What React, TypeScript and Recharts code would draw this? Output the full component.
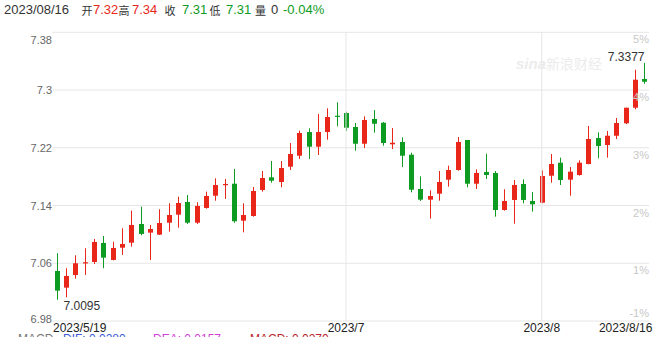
import React from "react";
import {
  ComposedChart,
  Bar,
  XAxis,
  YAxis,
  CartesianGrid,
  ReferenceLine,
} from "recharts";

const dates = [
  "2023/5/19", "2023/5/22", "2023/5/23", "2023/5/24", "2023/5/25", "2023/5/26",
  "2023/5/29", "2023/5/30", "2023/5/31",
  "2023/6/1", "2023/6/2", "2023/6/5", "2023/6/6", "2023/6/7", "2023/6/8", "2023/6/9",
  "2023/6/12", "2023/6/13", "2023/6/14", "2023/6/15", "2023/6/16",
  "2023/6/19", "2023/6/20", "2023/6/21", "2023/6/22", "2023/6/23",
  "2023/6/26", "2023/6/27", "2023/6/28", "2023/6/29", "2023/6/30",
  "2023/7/3", "2023/7/4", "2023/7/5", "2023/7/6", "2023/7/7",
  "2023/7/10", "2023/7/11", "2023/7/12", "2023/7/13", "2023/7/14",
  "2023/7/17", "2023/7/18", "2023/7/19", "2023/7/20", "2023/7/21",
  "2023/7/24", "2023/7/25", "2023/7/26", "2023/7/27", "2023/7/28", "2023/7/31",
  "2023/8/1", "2023/8/2", "2023/8/3", "2023/8/4",
  "2023/8/7", "2023/8/8", "2023/8/9", "2023/8/10", "2023/8/11",
  "2023/8/14", "2023/8/15", "2023/8/16",
];

const opens = [
  7.0493, 7.0262, 7.0438, 7.0604, 7.0618, 7.0881, 7.0646, 7.0816, 7.0885, 7.1144,
  7.1024, 7.0996, 7.1162, 7.1273, 7.1449, 7.1162, 7.1366, 7.1536, 7.1689, 7.1702,
  7.119, 7.1255, 7.1615, 7.1791, 7.1726, 7.1938, 7.209, 7.2418, 7.2215, 7.2418,
  7.2644, 7.2682, 7.2488, 7.2256, 7.2599, 7.2547, 7.2248, 7.228, 7.2104, 7.1629,
  7.1481, 7.1564, 7.1758, 7.1892, 7.2308, 7.1702, 7.1865, 7.1851, 7.1338, 7.1477,
  7.1698, 7.1463, 7.1439, 7.1813, 7.1993, 7.1758, 7.1823, 7.1975, 7.2335, 7.2238,
  7.2367, 7.2539, 7.2755, 7.3153,
];

const closes = [
  7.0221, 7.0424, 7.06, 7.0614, 7.0895, 7.0678, 7.0812, 7.0867, 7.113, 7.1006,
  7.1075, 7.1158, 7.1269, 7.1435, 7.1162, 7.1394, 7.1532, 7.1684, 7.1698, 7.1182,
  7.1269, 7.1601, 7.1781, 7.1744, 7.192, 7.2114, 7.2405, 7.2215, 7.2418, 7.2626,
  7.2636, 7.2478, 7.2256, 7.2585, 7.2533, 7.2266, 7.227, 7.209, 7.1619, 7.1481,
  7.1532, 7.1726, 7.1892, 7.228, 7.1702, 7.1851, 7.1823, 7.1338, 7.1463, 7.1684,
  7.1477, 7.1417, 7.1809, 7.1975, 7.1754, 7.1869, 7.1993, 7.2322, 7.2225, 7.2367,
  7.2543, 7.2755, 7.3143, 7.3115,
];

const highs = [
  7.0739, 7.0531, 7.0711, 7.0808, 7.0937, 7.0978, 7.0899, 7.1085, 7.1329, 7.1384,
  7.113, 7.1348, 7.1431, 7.1522, 7.1546, 7.1445, 7.1592, 7.1777, 7.1768, 7.1906,
  7.1431, 7.1657, 7.1878, 7.2017, 7.2017, 7.2266, 7.2437, 7.247, 7.2668, 7.2747,
  7.283, 7.27, 7.2543, 7.2636, 7.2723, 7.2557, 7.2474, 7.2345, 7.2132, 7.1805,
  7.1611, 7.1878, 7.1952, 7.2349, 7.2308, 7.1902, 7.2118, 7.1878, 7.1625, 7.1754,
  7.1763, 7.1588, 7.1888, 7.2114, 7.2063, 7.1934, 7.2027, 7.2502, 7.2414, 7.2432,
  7.2612, 7.2755, 7.3281, 7.3377,
];

const lows = [
  7.0095, 7.0129, 7.0387, 7.0438, 7.059, 7.0531, 7.0639, 7.0715, 7.083, 7.0988,
  7.0646, 7.0992, 7.1038, 7.1093, 7.1144, 7.1144, 7.1356, 7.1467, 7.1491, 7.1162,
  7.1029, 7.1245, 7.1592, 7.1716, 7.1653, 7.1892, 7.2045, 7.2045, 7.21, 7.2312,
  7.2497, 7.2432, 7.216, 7.2197, 7.2409, 7.2229, 7.2183, 7.1934, 7.1583, 7.1463,
  7.1218, 7.1467, 7.1661, 7.1883, 7.1653, 7.1629, 7.1768, 7.1245, 7.1329, 7.1148,
  7.1431, 7.1315, 7.1431, 7.1716, 7.1684, 7.1536, 7.1813, 7.1971, 7.2054, 7.2063,
  7.2322, 7.2529, 7.2733, 7.3087,
];

const priceTicks = [6.98, 7.06, 7.14, 7.22, 7.3, 7.38];
const pctLabels = ["-1%", "1%", "2%", "3%", "4%", "5%"];
const xTickDates = ["2023/5/19", "2023/7/3", "2023/8/1", "2023/8/16"];
const xTickLabels = ["2023/5/19", "2023/7", "2023/8", "2023/8/16"];
const monthLines = ["2023/7/3", "2023/8/1"];

const RED = "#e8261a";
const GREEN = "#0d9b22";
const FONT = "'Liberation Sans', Arial, 'Noto Sans CJK SC', sans-serif";
const PLOT_RIGHT = 649;

const data = dates.map((date, i) => ({
  date,
  open: opens[i],
  close: closes[i],
  high: highs[i],
  low: lows[i],
  range: [lows[i], highs[i]],
}));

const maxIdx = highs.indexOf(Math.max(...highs));
const minIdx = lows.indexOf(Math.min(...lows));

const Candle = (props: any) => {
  const { x, y, width, height, payload, index } = props;
  if (!payload) return null;
  const { open, close, high, low } = payload;
  const top = Math.min(y, y + height);
  const h = Math.abs(height);
  const ratio = h / (high - low);
  const yOf = (v: number) => top + (high - v) * ratio;
  const color = close >= open ? RED : GREEN;
  const cx = Math.round(x + width / 2) + 0.5;
  const bTop = yOf(Math.max(open, close));
  const bBot = yOf(Math.min(open, close));
  return (
    <g>
      <line x1={cx} x2={cx} y1={top} y2={top + h} stroke={color} strokeWidth={1} />
      <rect
        x={cx - 2.5}
        y={bTop}
        width={5}
        height={Math.max(bBot - bTop, 1.2)}
        fill={color}
      />
      {index === maxIdx && (
        <text x={cx} y={top - 2} textAnchor="end" fontSize={12} fill="#333" fontFamily={FONT}>
          {high.toFixed(4)}
        </text>
      )}
      {index === minIdx && (
        <text x={cx + 6} y={top + h + 10.5} textAnchor="start" fontSize={12} fill="#333" fontFamily={FONT}>
          {low.toFixed(4)}
        </text>
      )}
    </g>
  );
};

const PriceTick = (props: any) => {
  const { y, payload } = props;
  const i = priceTicks.indexOf(payload.value);
  const first = i === 0;
  const last = i === priceTicks.length - 1;
  const dy = last ? 12 : first ? 2 : 4;
  const pdy = first ? -4.5 : 11;
  return (
    <g>
      <text x={52} y={y + dy} textAnchor="end" fontSize={11} fill="#666" fontFamily={FONT}>
        {String(Number(payload.value.toFixed(2)))}
      </text>
      <text x={PLOT_RIGHT} y={y + pdy} textAnchor="end" fontSize={11} fill="#c8c8c8" fontFamily={FONT}>
        {pctLabels[i]}
      </text>
    </g>
  );
};

const DateTick = (props: any) => {
  const { x, payload } = props;
  const i = xTickDates.indexOf(payload.value);
  const anchor = i === 0 ? "start" : i === xTickDates.length - 1 ? "end" : "middle";
  const tx = i === 0 ? x - 4 : i === xTickDates.length - 1 ? x + 8 : x;
  return (
    <text x={tx} y={332} textAnchor={anchor} fontSize={12} fill="#222" fontFamily={FONT}>
      {xTickLabels[i]}
    </text>
  );
};

const header = [
  { t: "2023/08/16", c: "#333", l: 4, s: 13 },
  { t: "开", c: "#333", l: 81.5, s: 11 },
  { t: "7.32", c: RED, l: 93, s: 13 },
  { t: "高", c: "#333", l: 118.5, s: 11 },
  { t: "7.34", c: RED, l: 132, s: 13 },
  { t: "收", c: "#333", l: 164.5, s: 11 },
  { t: "7.31", c: GREEN, l: 182, s: 13 },
  { t: "低", c: "#333", l: 209.5, s: 11 },
  { t: "7.31", c: GREEN, l: 226, s: 13 },
  { t: "量", c: "#333", l: 255, s: 11 },
  { t: "0", c: "#333", l: 271, s: 13 },
  { t: "-0.04%", c: GREEN, l: 283, s: 13 },
];

const macd = [
  { t: "MACD", c: "#777", l: 18 },
  { t: "DIF: 0.0280", c: "#3b5bd6", l: 63 },
  { t: "DEA: 0.0157", c: "#d23fd6", l: 153 },
  { t: "MACD: 0.0270", c: "#b8252a", l: 250 },
];

export default function App() {
  return (
    <div
      style={{
        position: "absolute",
        left: 0,
        top: 0,
        width: 669,
        height: 337,
        overflow: "hidden",
        background: "#fff",
        fontFamily: FONT,
      }}
    >
      {header.map((h, i) => (
        <span
          key={i}
          style={{
            position: "absolute",
            left: h.l,
            top: h.s === 13 ? 2 : 3.5,
            fontSize: h.s,
            lineHeight: "15px",
            color: h.c,
            whiteSpace: "nowrap",
          }}
        >
          {h.t}
        </span>
      ))}
      <div
        style={{
          position: "absolute",
          left: 516,
          top: 53,
          fontSize: 15,
          fontStyle: "italic",
          color: "#ececec",
          fontWeight: "bold",
          whiteSpace: "nowrap",
        }}
      >
        sina<span style={{ fontWeight: "normal", fontStyle: "normal", fontSize: 14 }}>新浪财经</span>
      </div>
      <div style={{ position: "absolute", left: 0, top: 0 }}>
        <ComposedChart
          width={669}
          height={337}
          data={data}
          margin={{ top: 32.3, right: 669 - PLOT_RIGHT, bottom: 0, left: 0 }}
        >
          <CartesianGrid stroke="#e6e6e6" vertical={false} horizontalValues={priceTicks} />
          <XAxis
            dataKey="date"
            ticks={xTickDates}
            interval={0}
            axisLine={false}
            tickLine={false}
            height={16}
            tick={<DateTick />}
          />
          <YAxis
            domain={[6.98, 7.38]}
            ticks={priceTicks}
            allowDataOverflow
            axisLine={false}
            tickLine={false}
            width={52.3}
            tick={<PriceTick />}
          />
          {monthLines.map((d) => (
            <ReferenceLine key={d} x={d} stroke="#e6e6e6" />
          ))}
          <Bar dataKey="range" barSize={5} shape={<Candle />} isAnimationActive={false} />
        </ComposedChart>
      </div>
      {macd.map((m, i) => (
        <span
          key={i}
          style={{ position: "absolute", left: m.l, top: 332, fontSize: 12, color: m.c, whiteSpace: "nowrap" }}
        >
          {m.t}
        </span>
      ))}
    </div>
  );
}
